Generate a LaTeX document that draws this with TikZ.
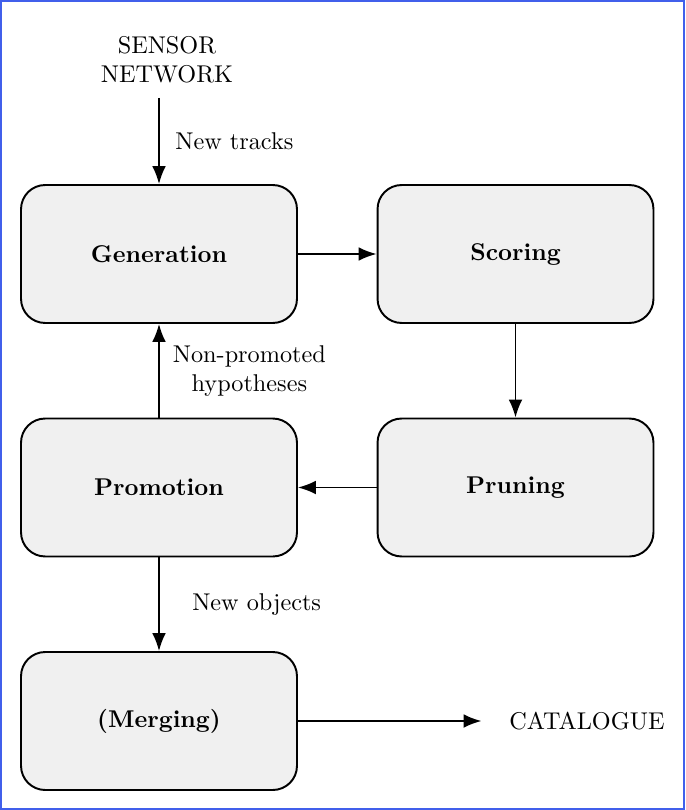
\documentclass[tikz,border=0pt]{standalone}
\usepackage{amsmath}
\usepackage{tikz}
\usetikzlibrary{arrows.meta}

\definecolor{frameblue}{RGB}{65,95,235}

\tikzset{
    stage/.style={draw, line width=0.8pt, rounded corners=0.35cm, fill=black!6,
        minimum width=4cm, minimum height=2cm, font=\bfseries},
    flow/.style={-{Latex[length=2.6mm,width=2mm]}, line width=0.8pt},
    note/.style={align=center}
}

\begin{document}
\begin{tikzpicture}[x=0.0145cm, y=-0.0145cm]
    \useasboundingbox (0,0) rectangle (685,810);
    \draw[frameblue, line width=0.8pt] (1,1) rectangle (684,809);

    % blocks
    \node[stage] (gen) at (159,254) {Generation};
    \node[stage] (score) at (515.5,254) {Scoring};
    \node[stage] (prom) at (159,487.5) {Promotion};
    \node[stage] (prune) at (515.5,487.5) {Pruning};
    \node[stage] (merge) at (159,721) {(Merging)};

    % in and out
    \node[note] (sensor) at (167,60) {SENSOR\\NETWORK};
    \node[note] (cat) at (587,721) {CATALOGUE};
    \coordinate (src) at (159,98);

    % arrows
    \draw[flow] (src) -- (gen.north) node[midway, right=3pt] (newtracks) {New tracks};
    \draw[flow] (gen) -- (score);
    \draw[flow] (score) -- (prune);
    \draw[flow] (prune) -- (prom);
    \draw[flow] (prom) -- (gen) node[midway, right=2pt, note] (nonprom) {Non-promoted\\hypotheses};
    \draw[flow] (prom) -- (merge) node[midway, right=10pt] (newobj) {New objects};
    \draw[flow, shorten >=8pt] (merge) -- (cat);
\end{tikzpicture}
\end{document}
